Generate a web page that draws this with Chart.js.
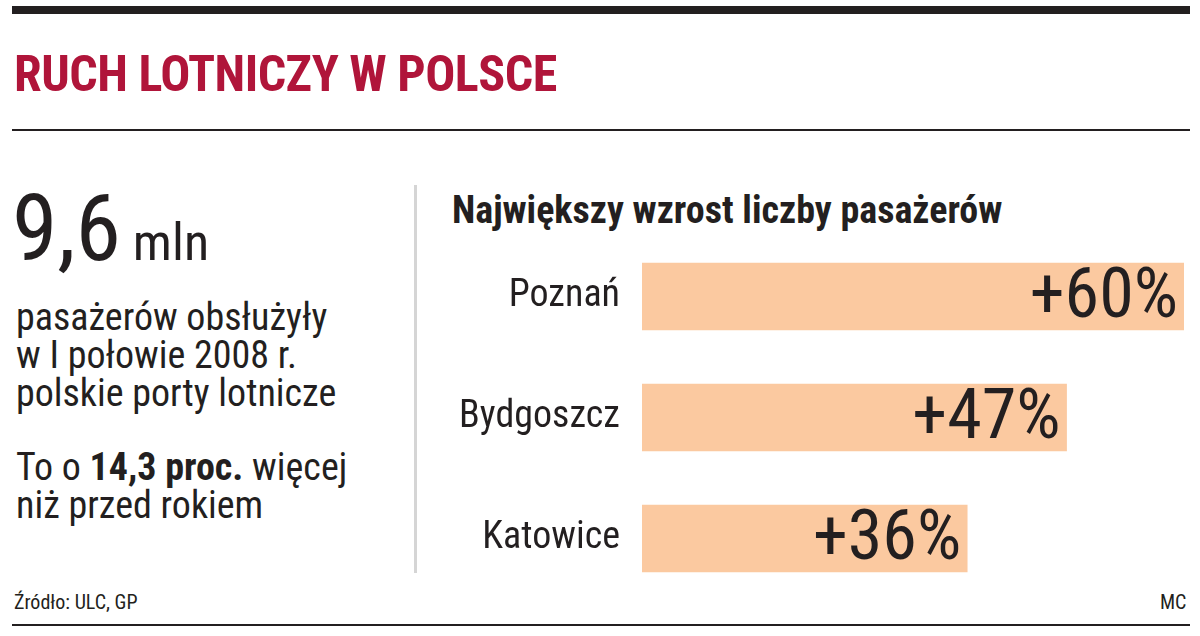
<!DOCTYPE html>
<html><head><meta charset="utf-8">
<script src="https://cdn.jsdelivr.net/npm/chart.js@4"></script>
<style>
body{margin:0;width:1200px;height:636px;background:#fff;position:relative;overflow:hidden;font-family:"Liberation Sans Narrow","Roboto Condensed","Arial Narrow",sans-serif;color:#231f20}
.abs{position:absolute;white-space:nowrap}
</style></head><body>
<div class="abs" style="left:12px;top:6px;width:1178px;height:8px;background:#231f20"></div>
<div class="abs" style="left:14px;top:45px;font-size:50px;font-weight:bold;color:#b0153a;letter-spacing:-0.5px">RUCH LOTNICZY W POLSCE</div>
<div class="abs" style="left:12px;top:129px;width:1178px;height:2px;background:#231f20"></div>
<div class="abs" style="left:12px;top:183px;font-size:92px;line-height:92px">9,6<span style="font-size:52px"> mln</span></div>
<div class="abs" style="left:16px;top:298px;font-size:38px;line-height:38px">pasażerów obsłużyły<br>w I połowie 2008 r.<br>polskie porty lotnicze</div>
<div class="abs" style="left:16px;top:448px;font-size:38px;line-height:38px">To o <b>14,3 proc.</b> więcej<br>niż przed rokiem</div>
<div class="abs" style="left:414px;top:185px;width:3px;height:388px;background:#d5d5d5"></div>
<div class="abs" style="left:452px;top:188px;font-size:38px;font-weight:bold">Największy wzrost liczby pasażerów</div>
<div class="abs" style="left:14px;top:590px;font-size:20px">Źródło: ULC, GP</div>
<div class="abs" style="left:1160px;top:590px;font-size:20px">MC</div>
<div class="abs" style="left:12px;top:624px;width:1178px;height:2px;background:#231f20"></div>
<div class="abs" style="left:420px;top:236px;width:764px;height:363px"><canvas id="c"></canvas></div>
<script>
const categories=["Poznań","Bydgoszcz","Katowice"];
const values=[60,47,36];
const valueLabels=["+60%","+47%","+36%"];
const F='"Liberation Sans Narrow","Roboto Condensed","Arial Narrow",sans-serif';
const labelsPlugin={id:'lbl',afterDatasetsDraw(ch){
 const ctx=ch.ctx,meta=ch.getDatasetMeta(0);ctx.save();
 meta.data.forEach((b,i)=>{
  ctx.fillStyle='#231f20';ctx.textBaseline='middle';
  ctx.textAlign='right';ctx.font='38px '+F;ctx.fillText(categories[i],ch.chartArea.left-22,b.y);
  ctx.font='70px '+F;ctx.fillText(valueLabels[i],b.x-6,b.y+3);
 });ctx.restore();}};
new Chart(document.getElementById('c'),{type:'bar',
 data:{labels:categories,datasets:[{data:values,backgroundColor:'#fbc9a0',barThickness:67}]},
 options:{indexAxis:'y',responsive:true,maintainAspectRatio:false,animation:false,
  layout:{padding:{left:222,right:0,top:0,bottom:0}},
  plugins:{legend:{display:false},tooltip:{enabled:false}},
  scales:{x:{display:false,min:0,max:60},y:{display:false}}},
 plugins:[labelsPlugin]});
</script></body></html>
